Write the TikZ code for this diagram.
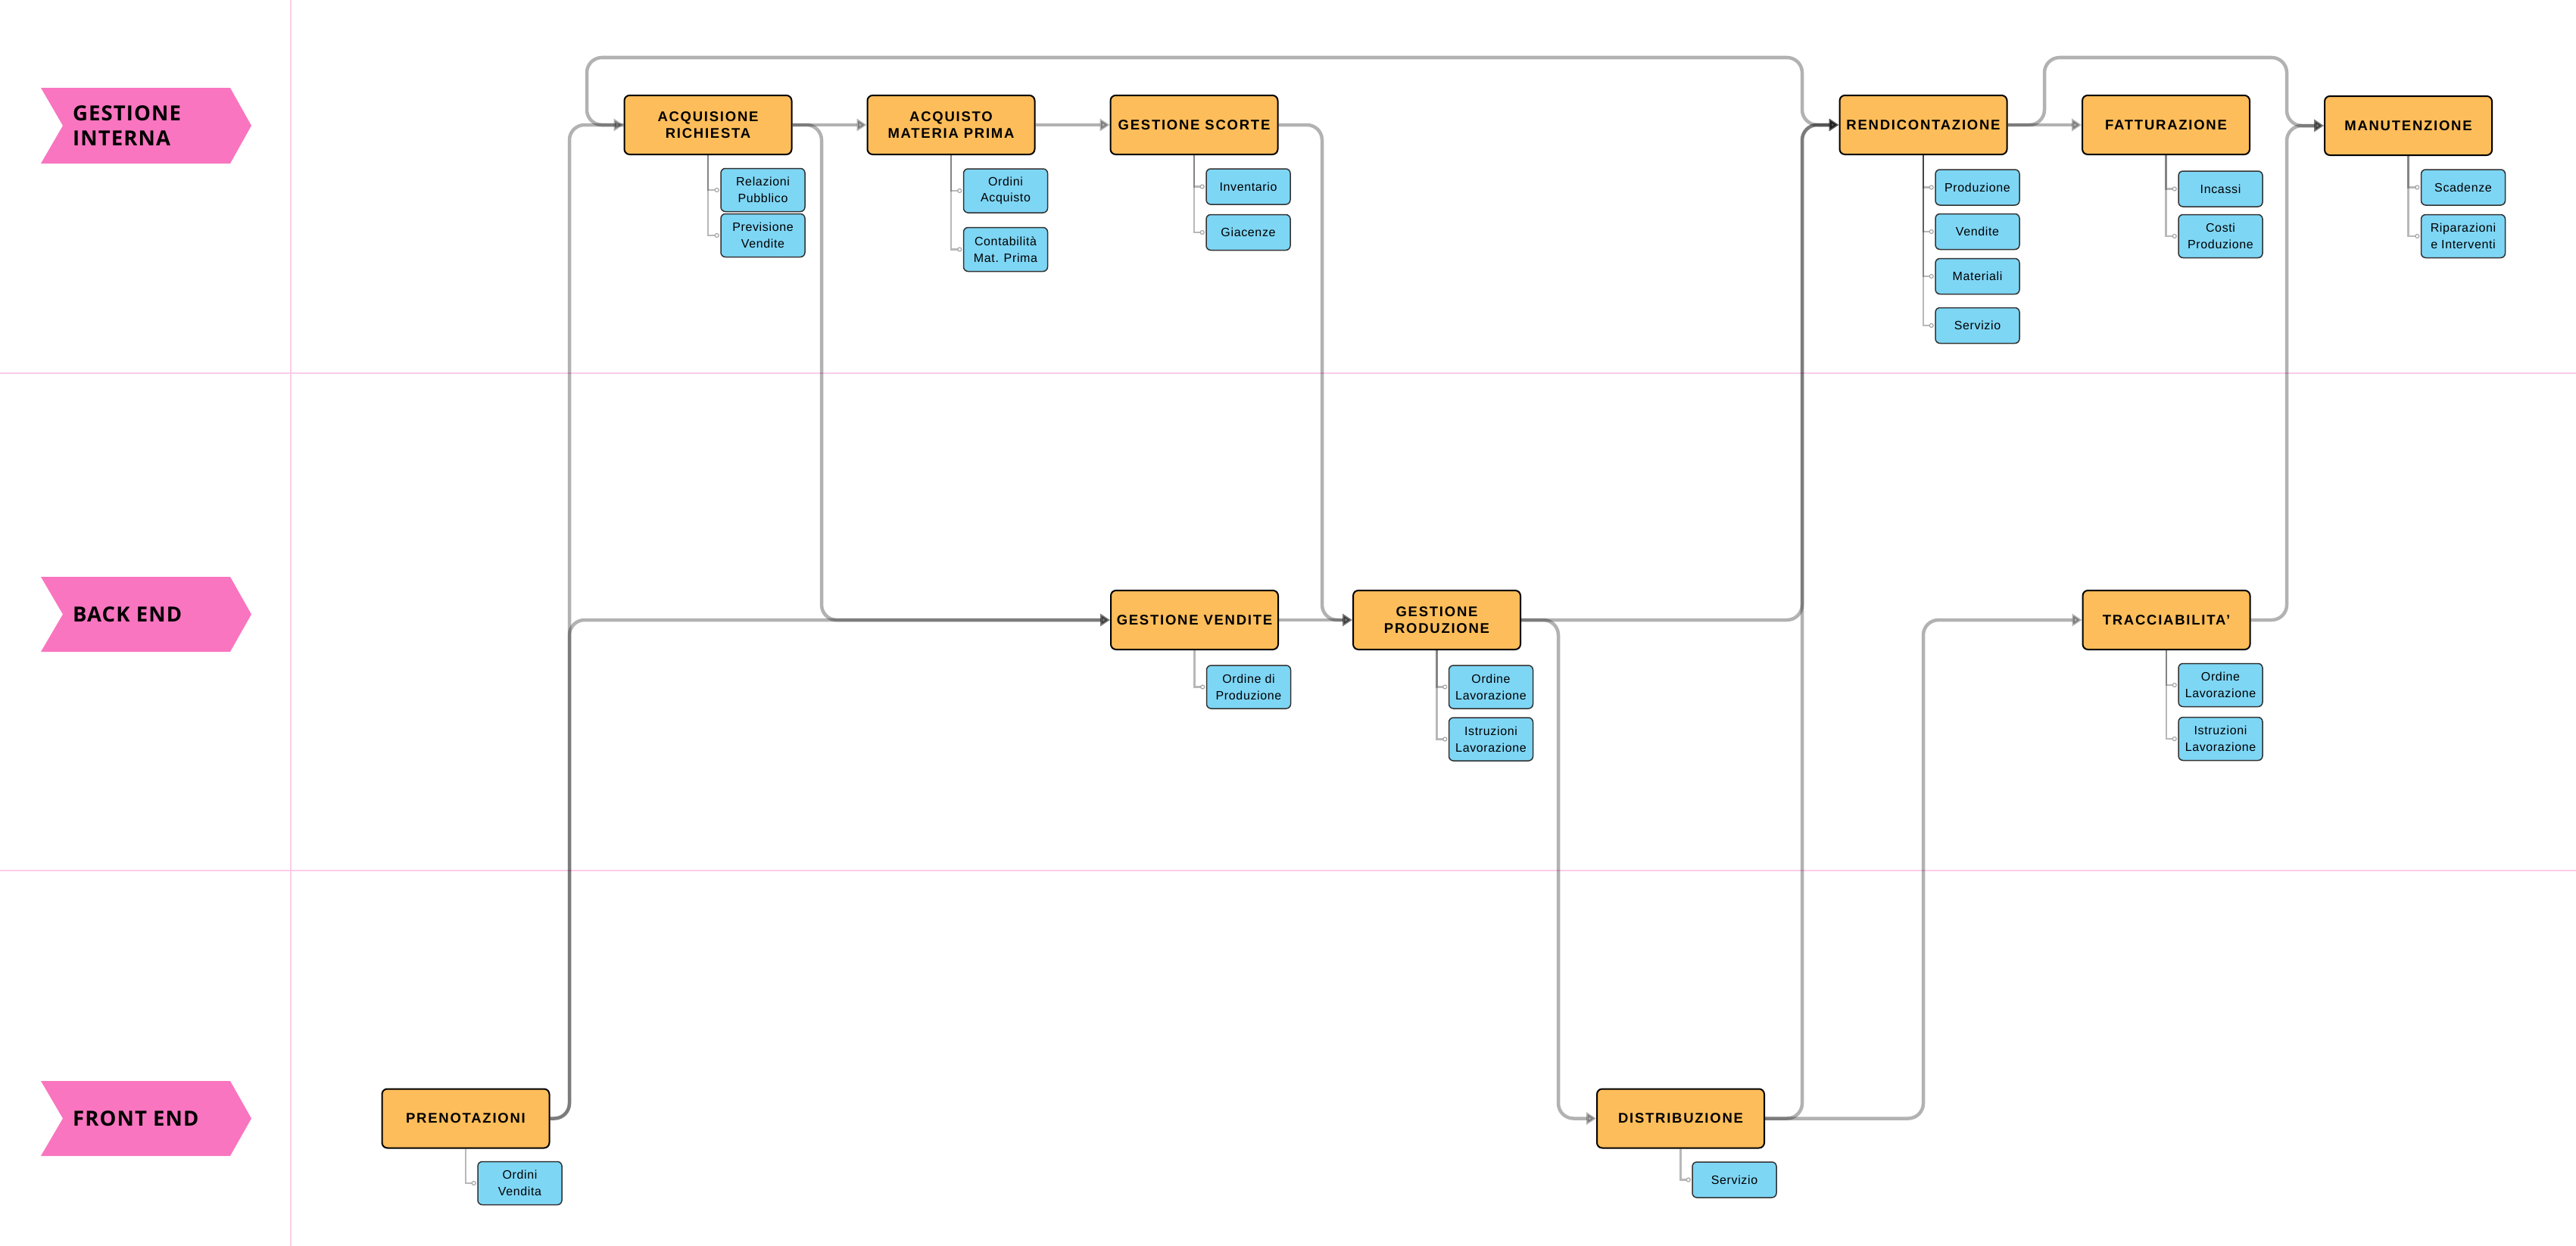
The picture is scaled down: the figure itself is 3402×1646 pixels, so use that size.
\documentclass[tikz,border=0pt]{standalone}
\usepackage{fontspec}
\setmainfont{Liberation Sans}
\newfontfamily\boxfont[LetterSpace=9.5]{Liberation Sans}
\newfontfamily\childfont[LetterSpace=4]{Liberation Sans}
\newfontfamily\lanefont[LetterSpace=4]{Open Sans}
\usetikzlibrary{arrows.meta}
\definecolor{laneP}{RGB}{249,117,192}
\definecolor{gridP}{RGB}{250,205,232}
\definecolor{boxO}{RGB}{253,189,90}
\definecolor{boxB}{RGB}{126,214,245}
\tikzset{
  proc/.style={draw=black, line width=2pt, fill=boxO, rounded corners=7pt,
    minimum width=221pt, minimum height=78pt, inner sep=0pt, align=center,
    font=\boxfont\bfseries\fontsize{18.5}{22.7}\selectfont},
  leaf/.style={draw=black!80, line width=1.5pt, fill=boxB, rounded corners=6pt,
    minimum width=111pt, minimum height=57pt, inner sep=0pt, align=center,
    font=\childfont\fontsize{16}{21.7}\selectfont},
  leafone/.style={leaf, minimum height=47pt},
  flow/.style={draw=black, opacity=0.3, line width=4.5pt, rounded corners=20pt,
    -{Triangle[length=13pt,width=16pt]}},
  sub/.style={draw=black, opacity=0.28, line width=2.2pt},
  dotc/.style={draw=black!35, fill=white, line width=1.2pt},
  gridline/.style={draw=gridP, line width=2.5pt},
  lanebox/.style={fill=laneP},
  lanetxt/.style={anchor=west, align=left, inner sep=0pt,
    font=\lanefont\bfseries\fontsize{27.5}{33}\selectfont},
}
\newcommand\subcon[2]{%
  \draw[sub] (#1.south) |- ([xshift=-7pt]#2.west);
  \draw[dotc] ([xshift=-4.5pt]#2.west) circle (2.5pt);}
\begin{document}
\begin{tikzpicture}[x=1pt,y=-1pt]
\useasboundingbox[fill=white] (0,0) rectangle (3402,1646);
% grid
\draw[gridline] (0,493) -- (3402,493);
\draw[gridline] (0,1150) -- (3402,1150);
\draw[gridline] (384,0) -- (384,1646);
% lane labels
\fill[lanebox] (54,116) -- (304,116) -- (332,166) -- (304,216) -- (54,216) -- (83,166) -- cycle;
\node[lanetxt] (laneA) at (96,166) {GESTIONE\\INTERNA};
\fill[lanebox] (54,762) -- (304,762) -- (332,811.5) -- (304,861) -- (54,861) -- (83,811.5) -- cycle;
\node[lanetxt] (laneB) at (96,811.5) {BACK END};
\fill[lanebox] (54,1428) -- (304,1428) -- (332,1477.5) -- (304,1527) -- (54,1527) -- (83,1477.5) -- cycle;
\node[lanetxt] (laneC) at (96,1477.5) {FRONT END};
% process boxes
\node[proc] (acq) at (935,165) {ACQUISIONE\\RICHIESTA};
\node[proc] (acqmp) at (1256,165) {ACQUISTO\\MATERIA PRIMA};
\node[proc] (scorte) at (1577,165) {GESTIONE SCORTE};
\node[proc] (rend) at (2540,165) {RENDICONTAZIONE};
\node[proc] (fatt) at (2860.5,165) {FATTURAZIONE};
\node[proc] (manut) at (3180.5,166) {MANUTENZIONE};
\node[proc] (vend) at (1577.5,819) {GESTIONE VENDITE};
\node[proc] (prod) at (1897.5,819) {GESTIONE\\PRODUZIONE};
\node[proc] (tracc) at (2861,819) {TRACCIABILITA’};
\node[proc] (pren) at (615,1477.5) {PRENOTAZIONI};
\node[proc] (dist) at (2219.5,1477.5) {DISTRIBUZIONE};
% leaves
\node[leaf] (l1) at (1007.5,251) {Relazioni\\Pubblico};
\node[leaf] (l2) at (1007.5,311) {Previsione\\Vendite};
\node[leaf, minimum height=58pt] (l3) at (1328,252) {Ordini\\Acquisto};
\node[leaf, minimum height=58pt] (l4) at (1328,329.5) {Contabilità\\Mat. Prima};
\node[leafone] (l5) at (1648.5,246.5) {Inventario};
\node[leafone] (l6) at (1648.5,307) {Giacenze};
\node[leafone] (l7) at (2611.5,247.5) {Produzione};
\node[leafone] (l8) at (2611.5,306) {Vendite};
\node[leafone] (l9) at (2611.5,365) {Materiali};
\node[leafone] (l10) at (2611.5,430) {Servizio};
\node[leafone] (l11) at (2932.5,249.5) {Incassi};
\node[leaf] (l12) at (2932.5,312) {Costi\\Produzione};
\node[leafone] (l13) at (3253,247.5) {Scadenze};
\node[leaf] (l14) at (3253,312) {Riparazioni\\e Interventi};
\node[leaf] (l15) at (1649,907.5) {Ordine di\\Produzione};
\node[leaf] (l16) at (1969,907.5) {Ordine\\Lavorazione};
\node[leaf] (l17) at (1969,976.5) {Istruzioni\\Lavorazione};
\node[leaf] (l18) at (2932.5,905) {Ordine\\Lavorazione};
\node[leaf] (l19) at (2932.5,976) {Istruzioni\\Lavorazione};
\node[leaf] (l20) at (686.5,1563) {Ordini\\Vendita};
\node[leafone] (l21) at (2290.5,1558.5) {Servizio};
% sub connectors
\subcon{acq}{l1}\subcon{acq}{l2}
\subcon{acqmp}{l3}\subcon{acqmp}{l4}
\subcon{scorte}{l5}\subcon{scorte}{l6}
\subcon{rend}{l7}\subcon{rend}{l8}\subcon{rend}{l9}\subcon{rend}{l10}
\subcon{fatt}{l11}\subcon{fatt}{l12}
\subcon{manut}{l13}\subcon{manut}{l14}
\subcon{vend}{l15}
\subcon{prod}{l16}\subcon{prod}{l17}
\subcon{tracc}{l18}\subcon{tracc}{l19}
\subcon{pren}{l20}
\subcon{dist}{l21}
% route coordinates
\coordinate (xA) at (752,0);
\coordinate (xT) at (775,0);
\coordinate (xB) at (1085,0);
\coordinate (xC) at (1746,0);
\coordinate (xD) at (2058,0);
\coordinate (xE) at (2380,0);
\coordinate (xF) at (2540,0);
\coordinate (xG) at (2700,0);
\coordinate (xH) at (3020,0);
\coordinate (yT) at (0,76);
% flows
\draw[flow] (pren.east) -| (xA |- acq.west) -- (acq.west);
\draw[flow] (pren.east) -| (xA |- vend.west) -- (vend.west);
\draw[flow] (acq.west) -| (xT |- yT) -| (xE |- rend.west) -- (rend.west);
\draw[flow] (acq.east) -- (acqmp.west);
\draw[flow] (acq.east) -| (xB |- vend.west) -- (vend.west);
\draw[flow] (acqmp.east) -- (scorte.west);
\draw[flow] (scorte.east) -| (xC |- prod.west) -- (prod.west);
\draw[flow] (vend.east) -- (prod.west);
\draw[flow] (prod.east) -| (xD |- dist.west) -- (dist.west);
\draw[flow] (prod.east) -| (xE |- rend.west) -- (rend.west);
\draw[flow] (dist.east) -| (xE |- rend.west) -- (rend.west);
\draw[flow] (dist.east) -| (xF |- tracc.west) -- (tracc.west);
\draw[flow] (rend.east) -- (fatt.west);
\draw[flow] (rend.east) -| (xG |- yT) -| (xH |- manut.west) -- (manut.west);
\draw[flow] (tracc.east) -| (xH |- manut.west) -- (manut.west);
\end{tikzpicture}
\end{document}
